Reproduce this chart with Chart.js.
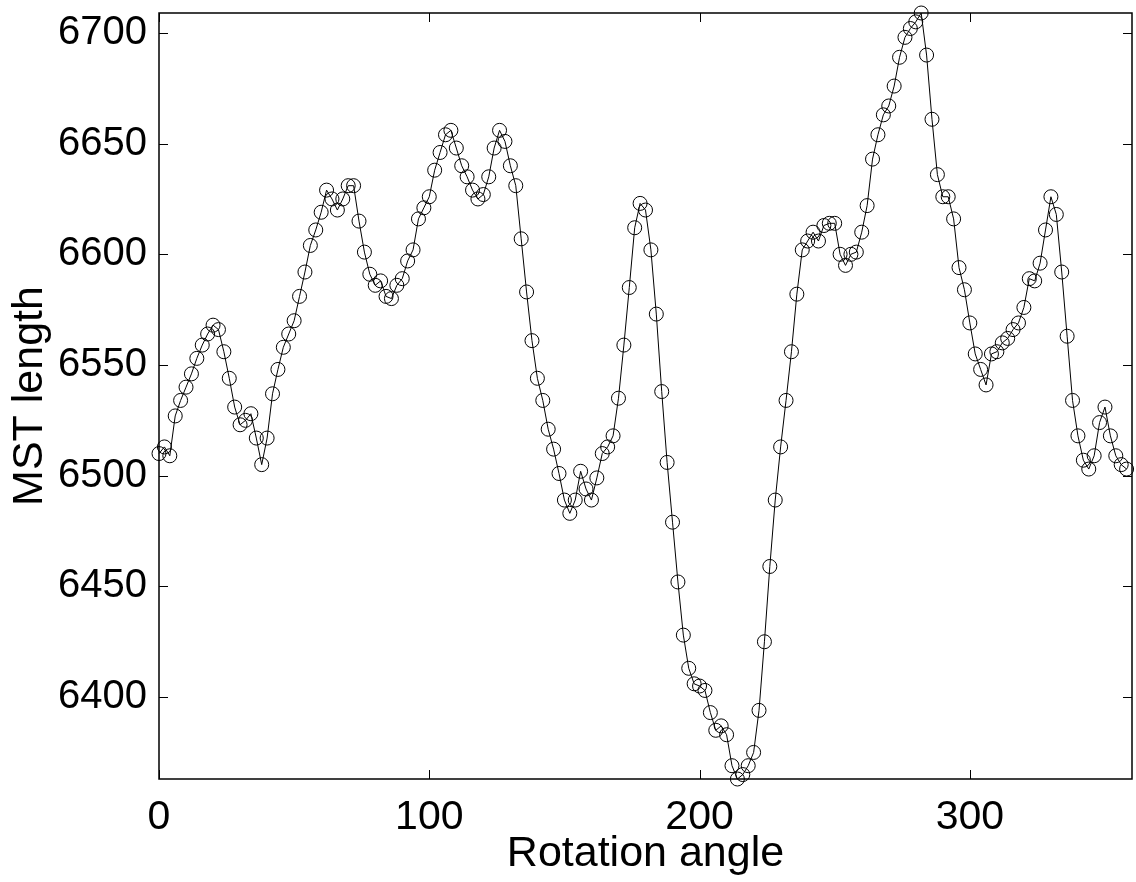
<!DOCTYPE html>
<html>
<head>
<meta charset="utf-8">
<script src="https://cdn.jsdelivr.net/npm/chart.js@4.4.1/dist/chart.umd.min.js"></script>
<style>
  html, body { margin: 0; padding: 0; background: #fff; }
  canvas { display: block; }
</style>
</head>
<body>
<canvas id="myChart" width="1136" height="882"></canvas>
<script>
// rotation angle in degrees, one sample every 2 degrees
const angles = [];
for (let a = 0; a < 360; a += 2) angles.push(a);

const mstLength = [
  6510, 6513, 6509, 6527, 6534, 6540, 6546, 6553, 6559, 6564,
  6568, 6566, 6556, 6544, 6531, 6523, 6525, 6528, 6517, 6505,
  6517, 6537, 6548, 6558, 6564, 6570, 6581, 6592, 6604, 6611,
  6619, 6629, 6625, 6620, 6625, 6631, 6631, 6615, 6601, 6591,
  6586, 6588, 6581, 6580, 6586, 6589, 6597, 6602, 6616, 6621,
  6626, 6638, 6646, 6654, 6656, 6648, 6640, 6635, 6629, 6625,
  6627, 6635, 6648, 6656, 6651, 6640, 6631, 6607, 6583, 6561,
  6544, 6534, 6521, 6512, 6501, 6489, 6483, 6489, 6502, 6494,
  6489, 6499, 6510, 6513, 6518, 6535, 6559, 6585, 6612, 6623,
  6620, 6602, 6573, 6538, 6506, 6479, 6452, 6428, 6413, 6406,
  6405, 6403, 6393, 6385, 6387, 6383, 6369, 6363, 6365, 6369,
  6375, 6394, 6425, 6459, 6489, 6513, 6534, 6556, 6582, 6602,
  6606, 6610, 6606, 6613, 6614, 6614, 6600, 6595, 6600, 6601,
  6610, 6622, 6643, 6654, 6663, 6667, 6676, 6689, 6698, 6702,
  6705, 6709, 6690, 6661, 6636, 6626, 6626, 6616, 6594, 6584,
  6569, 6555, 6548, 6541, 6555, 6556, 6560, 6562, 6566, 6569,
  6576, 6589, 6588, 6596, 6611, 6626, 6618, 6592, 6563, 6534,
  6518, 6507, 6503, 6509, 6524, 6531, 6518, 6509, 6505, 6503
];

const xTicks = [0, 100, 200, 300];
const yTicks = [6400, 6450, 6500, 6550, 6600, 6650, 6700];

const FONT = "'Liberation Sans', Arial, Helvetica, sans-serif";

// box round the plot with ticks pointing inwards, like matlab
const boxTicks = {
  id: 'boxTicks',
  afterDraw(chart) {
    const { ctx, chartArea: a, scales } = chart;
    const len = 9;
    ctx.save();
    ctx.strokeStyle = '#000';
    ctx.lineWidth = 1.5;
    ctx.strokeRect(a.left, a.top, a.right - a.left, a.bottom - a.top);
    ctx.lineWidth = 1;
    ctx.beginPath();
    xTicks.forEach(v => {
      const px = Math.round(scales.x.getPixelForValue(v)) + 0.5;
      ctx.moveTo(px, a.bottom); ctx.lineTo(px, a.bottom - len);
      ctx.moveTo(px, a.top); ctx.lineTo(px, a.top + len);
    });
    yTicks.forEach(v => {
      const py = Math.round(scales.y.getPixelForValue(v)) + 0.5;
      ctx.moveTo(a.left, py); ctx.lineTo(a.left + len, py);
      ctx.moveTo(a.right, py); ctx.lineTo(a.right - len, py);
    });
    ctx.stroke();
    ctx.restore();
  }
};

const ctx = document.getElementById('myChart');
const myChart = new Chart(ctx, {
  type: 'line',
  data: {
    datasets: [{
      data: angles.map((a, i) => ({ x: a, y: mstLength[i] })),
      borderColor: '#000',
      borderWidth: 1,
      tension: 0,
      pointRadius: 7,
      pointBorderWidth: 1,
      pointBorderColor: '#000',
      pointBackgroundColor: 'rgba(0,0,0,0)',
      clip: false
    }]
  },
  options: {
    responsive: false,
    animation: false,
    layout: { autoPadding: false, padding: { top: 13, right: 4, left: 0, bottom: 0 } },
    plugins: {
      legend: { display: false },
      tooltip: { enabled: false }
    },
    scales: {
      x: {
        type: 'linear',
        min: 0,
        max: 360,
        afterBuildTicks: s => { s.ticks = xTicks.map(v => ({ value: v })); },
        afterFit: s => { s.height = 103; s.paddingLeft = 0; s.paddingRight = 0; },
        grid: { display: false, drawTicks: false },
        border: { display: false },
        ticks: {
          color: '#000',
          padding: 14,
          maxRotation: 0,
          callback: v => String(v),
          font: { family: FONT, size: 41 }
        },
        title: {
          display: true,
          text: 'Rotation angle',
          color: '#000',
          padding: { top: 0, bottom: 2 },
          font: { family: FONT, size: 43 }
        }
      },
      y: {
        min: 6363,
        max: 6709,
        afterBuildTicks: s => { s.ticks = yTicks.map(v => ({ value: v })); },
        afterFit: s => { s.width = 159; s.paddingTop = 0; s.paddingBottom = 0; },
        grid: { display: false, drawTicks: false },
        border: { display: false },
        ticks: {
          color: '#000',
          padding: 12,
          callback: v => String(v),
          font: { family: FONT, size: 40 }
        },
        title: {
          display: true,
          text: 'MST length',
          color: '#000',
          padding: { top: 4, bottom: 0 },
          font: { family: FONT, size: 43 }
        }
      }
    }
  },
  plugins: [boxTicks]
});
</script>
</body>
</html>
